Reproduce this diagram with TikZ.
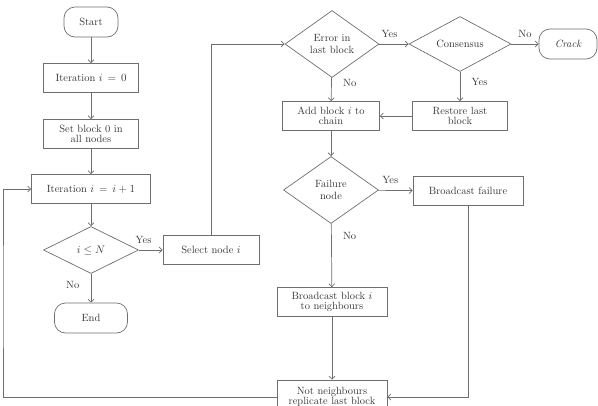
\documentclass[tikz,border=0pt]{standalone}
\usetikzlibrary{shapes.geometric,arrows.meta}
\definecolor{linegray}{RGB}{110,110,110}
\definecolor{textgray}{RGB}{55,55,55}
\begin{document}
\begin{tikzpicture}[x=1pt,y=-1pt,
    font=\fontsize{10.5}{12}\selectfont, text=textgray,
    >={Straight Barb[length=3pt,width=6pt]},
    conn/.style={->, draw=linegray, line width=0.7pt},
    proc/.style={draw=linegray, line width=0.7pt, rectangle, inner sep=1pt, minimum height=29pt, align=center},
    term/.style={draw=linegray, line width=0.7pt, rectangle, rounded corners=11pt, minimum height=30pt},
    test/.style={draw=linegray, line width=0.7pt, diamond, aspect=1.4, inner sep=0pt, align=center}]
  \useasboundingbox (0,0) rectangle (598,405);

  \node[term, minimum width=54pt] (start) at (91,22) {Start};
  \node[proc, minimum width=95pt] (iter0) at (91,78) {Iteration $i\,=\,0$};
  \node[proc, minimum width=95pt] (setb) at (91,134) {Set block 0 in\\[-2pt]all nodes};
  \node[proc, minimum width=119pt] (iter1) at (91,189) {Iteration $i\,=\,i+1$};
  \node[test, minimum width=95pt, minimum height=47pt] (cond) at (91,250) {$i\leq N$};
  \node[term, minimum width=73pt] (end) at (91,318) {End};
  \node[proc, minimum width=96pt] (sel) at (211,250) {Select node $i$};

  \node[test, minimum width=94pt, minimum height=67pt] (err) at (332,44) {Error in\\last block};
  \node[test, minimum width=102pt, minimum height=55pt] (cons) at (460,44) {Consensus};
  \node[term, minimum width=58pt] (crack) at (568,44) {\itshape Crack};
  \node[proc, minimum width=97pt] (add) at (331,116) {Add block $i$ to\\[-2pt]chain};
  \node[proc, minimum width=95pt] (rest) at (460,116) {Restore last\\[-2pt]block};
  \node[test, minimum width=95pt, minimum height=67pt] (fail) at (331,190) {Failure\\node};
  \node[proc, minimum width=110pt] (bfail) at (468,191) {Broadcast failure};
  \node[proc, minimum width=110pt] (bcast) at (332,302) {Broadcast block $i$\\[-2pt]to neighbours};
  \node[proc, minimum width=110pt, minimum height=34pt] (notnb) at (332,397) {Not neighbours\\[-2pt]replicate last block};
  \coordinate (loop) at (3,300);

  \draw[conn] (start) -- (iter0);
  \draw[conn] (iter0) -- (setb);
  \draw[conn] (setb) -- (iter1);
  \draw[conn] (iter1) -- (cond);
  \draw[conn] (cond) -- node[pos=0.4, left=8pt] {No} (end);
  \draw[conn] (cond) -- node[pos=0.2, above=3pt] {Yes} (sel);
  \draw[conn] (sel.north) |- (err.west);
  \draw[conn] (err) -- node[pos=0.35, above=3pt] {Yes} (cons);
  \draw[conn] (cons) -- node[pos=0.5, above=3pt] {No} (crack);
  \draw[conn] (err) -- node[pos=0.25, right=8pt] {No} (add);
  \draw[conn] (cons) -- node[pos=0.35, right=8pt] {Yes} (rest);
  \draw[conn] (rest) -- (add);
  \draw[conn] (add) -- (fail);
  \draw[conn] (fail) -- node[pos=0.35, above=3pt] {Yes} (bfail);
  \draw[conn] (fail) -- node[pos=0.2, right=8pt] {No} (bcast);
  \draw[conn] (bcast) -- (notnb);
  \draw[conn] (bfail.south) |- (notnb.east);
  \draw[conn] (notnb.west) -| (loop) |- (iter1.west);
\end{tikzpicture}
\end{document}
